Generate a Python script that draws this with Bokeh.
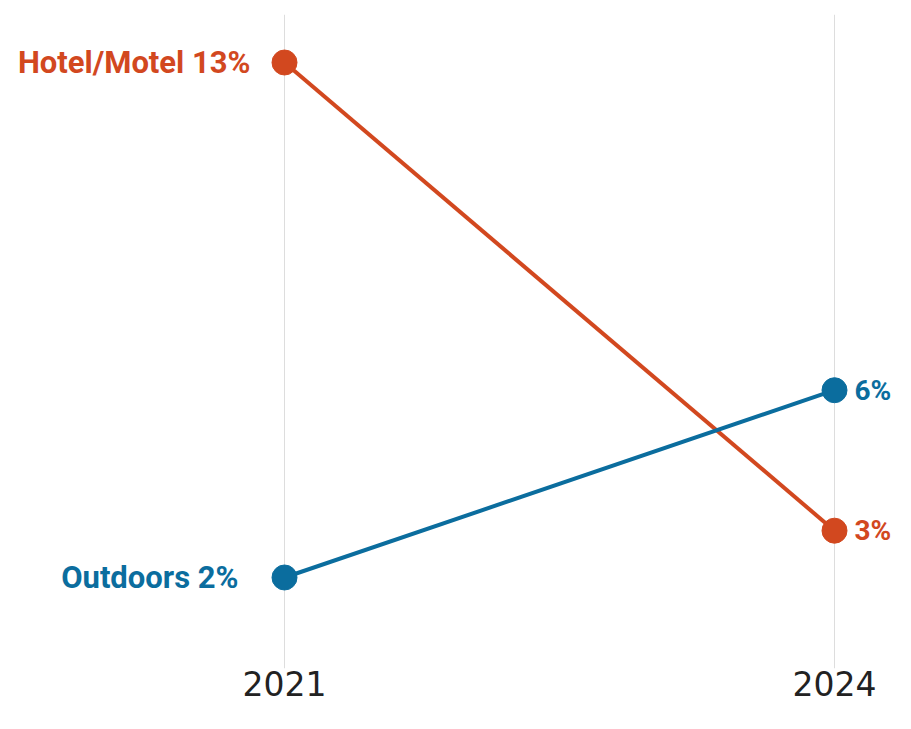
from bokeh.plotting import figure
from bokeh.models import Range1d, FixedTicker, ColumnDataSource
from bokeh.core.properties import value
from bokeh.embed import file_html
from bokeh.resources import INLINE

years = [2021, 2024]
series_names = ["Hotel/Motel", "Outdoors"]
hotel_motel = [13, 3]
outdoors = [2, 6]
tick_labels = ["2021", "2024"]

colors = ["#d2481f", "#0b6d9e"]
left_offsets = [-34, -46]

p = figure(width=895, height=713, output_backend="svg", toolbar_location=None,
           x_range=Range1d(2019.4509, 2024.3327), y_range=Range1d(0.0563, 14.0253),
           min_border_left=0, min_border_right=0, min_border_top=14, min_border_bottom=45)
p.outline_line_color = None
p.background_fill_color = "white"
p.border_fill_color = "white"

p.yaxis.visible = False
p.ygrid.visible = False
p.xaxis.ticker = FixedTicker(ticks=years)
p.xaxis.major_label_overrides = {y: t for y, t in zip(years, tick_labels)}
p.xaxis.axis_line_color = None
p.xaxis.major_tick_line_color = None
p.xaxis.minor_tick_line_color = None
p.xaxis.major_tick_out = 0
p.xaxis.major_tick_in = 0
p.xaxis.major_label_text_font = "DejaVu Sans"
p.xaxis.major_label_text_font_size = "33px"
p.xaxis.major_label_text_color = "#222222"
p.xaxis.major_label_standoff = 2
p.xgrid.grid_line_color = "#dddddd"
p.xgrid.grid_line_width = 1

for name, vals, col, lo in zip(series_names, [hotel_motel, outdoors], colors, left_offsets):
    src = ColumnDataSource(dict(x=years, y=vals))
    p.line("x", "y", source=src, line_color=col, line_width=4)
    p.scatter("x", "y", source=src, size=25, fill_color=col, line_color=col)
    left = ColumnDataSource(dict(x=[years[0]], y=[vals[0]], t=[f"{name} {vals[0]}%"]))
    p.text("x", "y", text="t", source=left, x_offset=lo, text_align="right",
           text_baseline="middle", text_color=col, text_font=value("Roboto"),
           text_font_style="bold", text_font_size="31px")
    right = ColumnDataSource(dict(x=[years[1]], y=[vals[1]], t=[f"{vals[1]}%"]))
    p.text("x", "y", text="t", source=right, x_offset=20, text_align="left",
           text_baseline="middle", text_color=col, text_font=value("Roboto"),
           text_font_style="bold", text_font_size="28px")

open("out.html", "w").write(file_html(p, INLINE))
